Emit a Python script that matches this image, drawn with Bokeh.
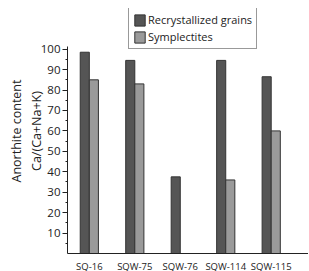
import numpy as np
from bokeh.plotting import figure
from bokeh.models import (Range1d, FixedTicker, Legend, LegendItem, ColumnDataSource)
from bokeh.embed import file_html
from bokeh.resources import INLINE

samples = ["SQ-16", "SQW-75", "SQW-76", "SQW-114", "SQW-115"]
recrystallized = [98.5, 94.5, 37.5, 94.5, 86.5]
symplectites = [85, 83, np.nan, 36, 60]
y_ticks = [10, 20, 30, 40, 50, 60, 70, 80, 90, 100]

FONT = "Open Sans"
TXT = "#222222"

xpos = np.arange(len(samples))
src = ColumnDataSource(dict(
    xd=xpos - 0.1, xl=xpos + 0.1,
    rec=recrystallized, sym=symplectites,
))

p = figure(frame_width=241, frame_height=245, output_backend="svg", toolbar_location=None,
           x_range=Range1d(-0.48, 4.82), y_range=Range1d(0, 119.9),
           min_border_left=67, min_border_right=0, min_border_top=8,
           min_border_bottom=0)
p.outline_line_color = None
p.xgrid.visible = False
p.ygrid.visible = False

r1 = p.vbar(x="xd", top="rec", width=0.2, source=src, fill_color="#555555",
            line_color="#333333", line_width=1)
r2 = p.vbar(x="xl", top="sym", width=0.2, source=src, fill_color="#9a9a9a",
            line_color="#333333", line_width=1)

xa = p.xaxis[0]
xa.ticker = FixedTicker(ticks=list(xpos))
xa.major_label_overrides = {int(i): s for i, s in enumerate(samples)}
xa.major_tick_out = 0
xa.major_tick_in = 0
xa.minor_tick_out = 0
xa.minor_tick_in = 0
xa.major_label_standoff = 6
xa.major_label_text_font = FONT
xa.major_label_text_font_size = "9.5px"
xa.major_label_text_color = TXT
xa.axis_line_color = TXT

ya = p.yaxis[0]
ya.bounds = (0, 101.5)
ya.ticker = FixedTicker(ticks=y_ticks, minor_ticks=[5, 15, 25, 35, 45, 55, 65, 75, 85, 95])
ya.major_tick_out = 5
ya.major_tick_in = 0
ya.minor_tick_out = 2
ya.minor_tick_in = 0
ya.major_label_standoff = 2
ya.major_label_text_font = FONT
ya.major_label_text_font_size = "11.5px"
ya.major_label_text_color = TXT
ya.axis_line_color = TXT
ya.major_tick_line_color = TXT
ya.minor_tick_line_color = TXT
ya.axis_label = "Anorthite content\nCa/(Ca+Na+K)"
ya.axis_label_text_font = FONT
ya.axis_label_text_font_size = "12.5px"
ya.axis_label_text_line_height = 1.15
ya.axis_label_text_font_style = "normal"
ya.axis_label_text_color = TXT
ya.axis_label_standoff = -7

legend = Legend(items=[LegendItem(label="Recrystallized grains", renderers=[r1]),
                       LegendItem(label="Symplectites", renderers=[r2])],
                location=(61, 204))
legend.label_text_font = FONT
legend.label_text_font_size = "11px"
legend.label_text_color = TXT
legend.glyph_width = 13
legend.glyph_height = 14
legend.label_height = 14
legend.label_standoff = 2
legend.spacing = 2
legend.padding = 4
legend.margin = 0
legend.border_line_color = "#333333"
legend.border_line_width = 1
legend.background_fill_alpha = 1
p.add_layout(legend)

open("out.html", "w").write(file_html(p, INLINE))
